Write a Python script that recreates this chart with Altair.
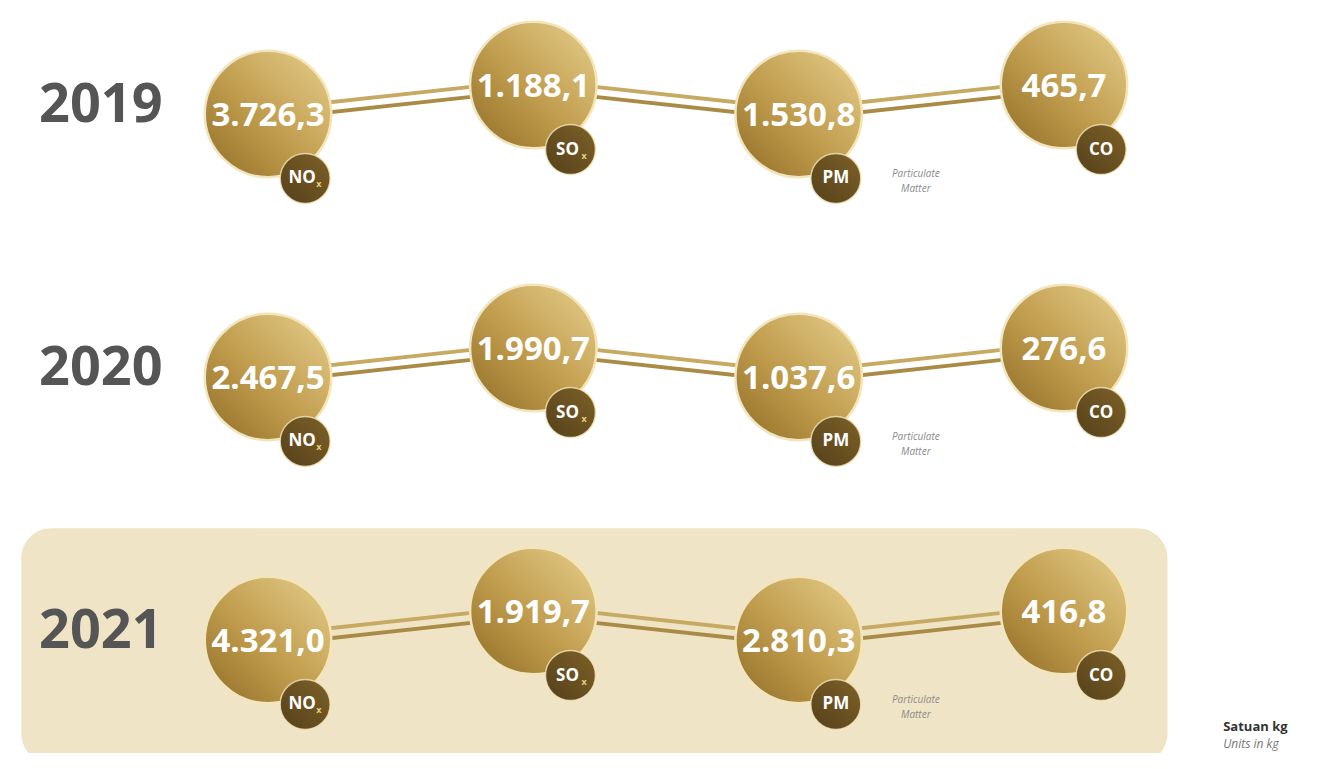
import altair as alt
import pandas as pd

# ---------------- data ----------------
years = ["2019", "2020", "2021"]
pollutants = ["NOx", "SOx", "PM", "CO"]
badge_main = ["NO", "SO", "PM", "CO"]
badge_sub = ["x", "x", "", ""]
values_2019 = [3726.3, 1188.1, 1530.8, 465.7]
values_2020 = [2467.5, 1990.7, 1037.6, 276.6]
values_2021 = [4321.0, 1919.7, 2810.3, 416.8]
pm_note = "Particulate\nMatter"
unit_title = "Satuan kg"
unit_sub = "Units in kg"
highlight_year = "2021"

values = {"2019": values_2019, "2020": values_2020, "2021": values_2021}


def fmt_id(v):
    s = f"{v:,.1f}"
    return s.replace(",", "#").replace(".", ",").replace("#", ".")


# ---------------- layout (in column / row units) ----------------
ZIG = -0.11          # raised position for every second pollutant
BADGE_DX, BADGE_DY = 0.14, 0.245
W, H = 1301, 745
XS = alt.Scale(domain=[0, 3], range=[260, 1056], nice=False, zero=False)
YS = alt.Scale(domain=[0, 2], range=[106, 632], nice=False, zero=False)

circ_rows, line_rows = [], []
for r, yr in enumerate(years):
    pts = []
    for i, p in enumerate(pollutants):
        cy = r + (ZIG if i % 2 == 1 else 0.0)
        pts.append((i, cy))
        circ_rows.append(dict(year=yr, pol=p, cx=i, cy=cy,
                              label=fmt_id(values[yr][i]),
                              bx=i + BADGE_DX, by=cy + BADGE_DY,
                              bmain=badge_main[i], bsub=badge_sub[i],
                              note=pm_note if p == "PM" else ""))
    for k in range(3):
        (x1, y1), (x2, y2) = pts[k], pts[k + 1]
        for off, side in ((-0.019, "a"), (0.019, "b")):
            line_rows.append(dict(cx=x1, cy=y1 + off, cx2=x2, cy2=y2 + off, side=side))

circ = pd.DataFrame(circ_rows)
lines = pd.DataFrame(line_rows)
year_df = pd.DataFrame(dict(year=years, cx=[-0.63] * 3,
                            cy=[r - 0.03 for r in range(len(years))]))
hl = pd.DataFrame(dict(year=[highlight_year], cx=[-0.93], cx2=[3.39],
                       cy=[years.index(highlight_year) - 0.425],
                       cy2=[years.index(highlight_year) + 0.47]))
unit_df = pd.DataFrame(dict(t=[unit_title, unit_sub], cx=[3.6, 3.6],
                            cy=[2.33, 2.395], w=["bold", "normal"]))

X = lambda f="cx": alt.X(f"{f}:Q", scale=XS, axis=None)
Y = lambda f="cy": alt.Y(f"{f}:Q", scale=YS, axis=None)

gold = alt.LinearGradient(
    gradient="linear", x1=0, y1=1, x2=1, y2=0,
    stops=[alt.GradientStop(color="#8f6d25", offset=0),
           alt.GradientStop(color="#bf9b4c", offset=0.45),
           alt.GradientStop(color="#e6cf8d", offset=1)])
dark = alt.LinearGradient(
    gradient="linear", x1=0, y1=1, x2=1, y2=0,
    stops=[alt.GradientStop(color="#55401a", offset=0),
           alt.GradientStop(color="#7d6128", offset=1)])

# ---------------- layers ----------------
hl_layer = alt.Chart(hl).mark_rect(color="#f0e4c6", cornerRadius=30).encode(
    x=X(), x2="cx2:Q", y=Y(), y2="cy2:Q")

line_layer = alt.Chart(lines).mark_rule(strokeWidth=3.8, strokeCap="round").encode(
    x=X(), y=Y(), x2="cx2:Q", y2="cy2:Q",
    color=alt.Color("side:N", scale=alt.Scale(domain=["a", "b"],
                                               range=["#c6aa62", "#a98b46"]),
                    legend=None))

big = alt.Chart(circ).mark_point(shape="circle", filled=True, fill=gold, opacity=1,
                                 size=16000, stroke="#f3e5bb", strokeWidth=2.5,
                                 strokeOpacity=1).encode(x=X(), y=Y())

val_txt = alt.Chart(circ).mark_text(font="Open Sans", fontWeight="bold", fontSize=33,
                                    color="white", baseline="middle", dy=2).encode(
    x=X(), y=Y(), text="label:N")

badge = alt.Chart(circ).mark_point(shape="circle", filled=True, fill=dark, opacity=1,
                                   size=2500, stroke="#f3e5bb", strokeWidth=1.5,
                                   strokeOpacity=0.8).encode(x=X("bx"), y=Y("by"))

badge_txt_sub_main = alt.Chart(circ[circ.bsub != ""]).mark_text(
    font="Open Sans", fontWeight="bold", fontSize=17, color="white",
    baseline="middle", align="center", dx=-3).encode(x=X("bx"), y=Y("by"), text="bmain:N")
badge_txt_plain = alt.Chart(circ[circ.bsub == ""]).mark_text(
    font="Open Sans", fontWeight="bold", fontSize=17, color="white",
    baseline="middle", align="center").encode(x=X("bx"), y=Y("by"), text="bmain:N")
badge_sub_txt = alt.Chart(circ[circ.bsub != ""]).mark_text(
    font="Open Sans", fontWeight="bold", fontSize=9, color="#e8cf7a",
    baseline="middle", align="left", dx=11, dy=6).encode(x=X("bx"), y=Y("by"), text="bsub:N")

note_txt = alt.Chart(circ[circ.note != ""]).mark_text(
    font="Open Sans", fontStyle="italic", fontSize=10, color="#8c8c8c",
    lineBreak="\n", lineHeight=15, baseline="middle", align="center", dx=80, dy=-4).encode(
    x=X("bx"), y=Y("by"), text="note:N")

year_txt = alt.Chart(year_df).mark_text(font="Open Sans", fontWeight="bold", fontSize=54,
                                        color="#555555", baseline="middle",
                                        align="center").encode(x=X(), y=Y(), text="year:N")

unit_bold = alt.Chart(unit_df[unit_df.w == "bold"]).mark_text(
    font="Open Sans", fontWeight="bold", fontSize=13, align="left", baseline="middle",
    color="#333333").encode(x=X(), y=Y(), text="t:N")
unit_it = alt.Chart(unit_df[unit_df.w != "bold"]).mark_text(
    font="Open Sans", fontStyle="italic", fontSize=12, align="left", baseline="middle",
    color="#777777").encode(x=X(), y=Y(), text="t:N")

chart = alt.layer(
    hl_layer, line_layer, big, val_txt, badge,
    badge_txt_sub_main, badge_txt_plain, badge_sub_txt,
    note_txt, year_txt, unit_bold, unit_it,
).properties(
    width=W, height=H, autosize=alt.AutoSizeParams(type="none"), padding=0,
    background="white",
).configure_view(stroke=None)

chart.save("out.html", embed_options={"renderer": "svg", "actions": False})
